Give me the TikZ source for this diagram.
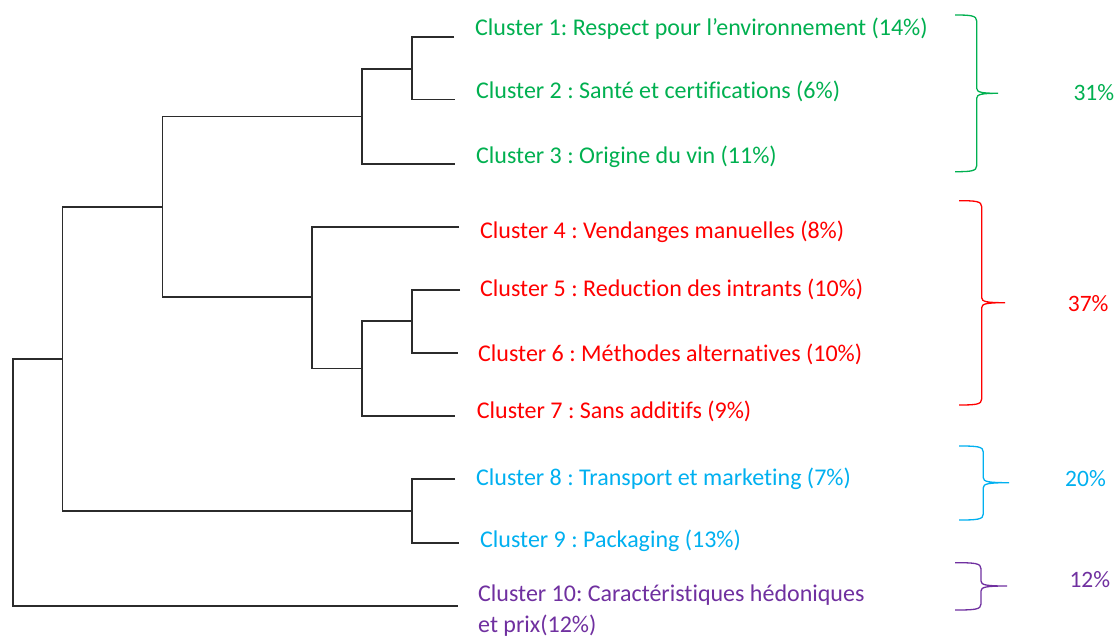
\documentclass[tikz,border=0pt]{standalone}
\usepackage{fontspec}
\setmainfont{Carlito}[Ligatures=CommonOff]
\frenchspacing
\definecolor{cgreen}{HTML}{00B050}
\definecolor{cred}{HTML}{FF0000}
\definecolor{ccyan}{HTML}{00B0F0}
\definecolor{cpurple}{HTML}{7030A0}
\definecolor{treecol}{HTML}{2B2B2B}
\newcommand{\ClBrace}[7]{% color, x0, xv, xt, ytop, ymid, ybot
  \draw[#1, braceline] (#2,#5) .. controls (#3-6,#5) and (#3,#5+0.5) .. (#3,#5+6)
    -- (#3,#6-5) .. controls (#3,#6-1) and (#3+5,#6) .. (#4,#6)
    .. controls (#3+5,#6) and (#3,#6+1) .. (#3,#6+5)
    -- (#3,#7-6) .. controls (#3,#7-0.5) and (#3-6,#7) .. (#2,#7);}
\tikzset{
  tree/.style={draw=treecol, line width=1.6pt},
  lbl/.style={anchor=base west, inner sep=0pt, font=\fontsize{24}{31}\selectfont},
  pct/.style={anchor=base west, inner sep=0pt, font=\fontsize{23.5}{31}\selectfont},
  braceline/.style={line width=1.3pt}
}
\begin{document}
\begin{tikzpicture}[x=1pt,y=-1pt]
\useasboundingbox[fill=white] (0,0) rectangle (1120,637);
% leaf ends
\coordinate (e1) at (454,36.7);
\coordinate (e2) at (455,99.3);
\coordinate (e3) at (455,164);
\coordinate (e4) at (459,227);
\coordinate (e5) at (460,289.7);
\coordinate (e6) at (458,352.7);
\coordinate (e7) at (455,415.7);
\coordinate (e8) at (455,479);
\coordinate (e9) at (459,542.7);
\coordinate (e10) at (457.7,606);
% joins
\coordinate (j12) at (411.7,69);
\coordinate (j123) at (361.7,116.3);
\coordinate (j56) at (411.7,321);
\coordinate (j567) at (361.7,368.3);
\coordinate (j4567) at (311.7,297);
\coordinate (jA) at (162.3,206.7);
\coordinate (j89) at (411.7,511);
\coordinate (jB) at (62.3,359);
\coordinate (root) at (12.7,482.5);
% tree
\draw[tree] (e1) -| (j12) |- (e2);
\draw[tree] (j12) -| (j123) |- (e3);
\draw[tree] (e5) -| (j56) |- (e6);
\draw[tree] (j56) -| (j567) |- (e7);
\draw[tree] (e4) -| (j4567) |- (j567);
\draw[tree] (j123) -| (jA) |- (j4567);
\draw[tree] (e8) -| (j89) |- (e9);
\draw[tree] (jA) -| (jB) |- (j89);
\draw[tree] (jB) -| (root) |- (e10);
% labels
\node[lbl, text=cgreen] (l1) at (475,35.7) {Cluster 1: Respect pour l’environnement (14\%)};
\node[lbl, text=cgreen] (l2) at (476,98.3) {Cluster 2 : Santé et certifications (6\%)};
\node[lbl, text=cgreen] (l3) at (476,163.3) {Cluster 3 : Origine du vin (11\%)};
\node[lbl, text=cred] (l4) at (480,238.3) {Cluster 4 : Vendanges manuelles (8\%)};
\node[lbl, text=cred] (l5) at (480,296.7) {Cluster 5 : Reduction des intrants (10\%)};
\node[lbl, text=cred] (l6) at (478,361.7) {Cluster 6 : Méthodes alternatives (10\%)};
\node[lbl, text=cred] (l7) at (476.7,418.3) {Cluster 7 : Sans additifs (9\%)};
\node[lbl, text=ccyan] (l8) at (476,485) {Cluster 8 : Transport et marketing (7\%)};
\node[lbl, text=ccyan] (l9) at (480,547.3) {Cluster 9 : Packaging (13\%)};
\node[lbl, text=cpurple] (l10) at (478,601.7) {Cluster 10: Caractéristiques hédoniques};
\node[lbl, text=cpurple] (l10b) at (478,632.7) {et prix(12\%)};
% braces
\ClBrace{cgreen}{955}{976.7}{998}{15}{93.3}{171.7}
\ClBrace{cred}{959}{981.7}{1005}{200.7}{302.7}{405}
\ClBrace{ccyan}{959}{983.3}{1009}{446}{482.7}{520}
\ClBrace{cpurple}{955}{981}{1007}{562.7}{586}{610}
% percentages
\node[pct, text=cgreen] (p1) at (1073.3,100.7) {31\%};
\node[pct, text=cred] (p2) at (1067.7,311.7) {37\%};
\node[pct, text=ccyan] (p3) at (1065,486) {20\%};
\node[pct, text=cpurple] (p4) at (1069.3,587.3) {12\%};
\end{tikzpicture}
\end{document}
